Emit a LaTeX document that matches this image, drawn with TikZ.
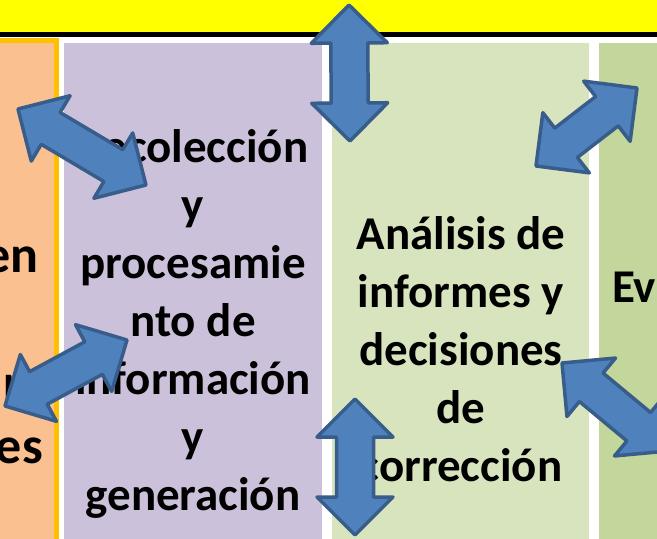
\documentclass[tikz,border=0pt]{standalone}
\usepackage{fontspec}
\setmainfont{Carlito}
\usetikzlibrary{calc}

\definecolor{bandyellow}{HTML}{FFFF00}
\definecolor{colorange}{HTML}{FAC090}
\definecolor{colgold}{HTML}{FFC000}
\definecolor{colpurple}{HTML}{CCC1DA}
\definecolor{collight}{HTML}{D7E4BD}
\definecolor{coldark}{HTML}{C3D69B}
\definecolor{arrowfill}{HTML}{4F81BD}
\definecolor{arrowline}{HTML}{385D8A}

\tikzset{
  stage/.style={font=\fontsize{47}{58}\selectfont\bfseries, align=center, inner sep=0pt},
  bigstage/.style={stage, font=\fontsize{52}{64}\selectfont\bfseries},
  blockarrow/.style={fill=arrowfill, draw=arrowline, line width=3.5pt, line join=round},
}

\newcommand{\headlen}{38pt}
\newcommand{\headwid}{38pt}
\newcommand{\shaftwid}{18.5pt}
% block arrow with a head at both tips
\newcommand{\dblarrow}[2]{%
  \draw[blockarrow] (#1)
    -- ($($(#1)!\headlen!(#2)$)!\headwid!90:(#2)$)
    -- ($($(#1)!\headlen!(#2)$)!\shaftwid!90:(#2)$)
    -- ($($(#2)!\headlen!(#1)$)!\shaftwid!-90:(#1)$)
    -- ($($(#2)!\headlen!(#1)$)!\headwid!-90:(#1)$)
    -- (#2)
    -- ($($(#2)!\headlen!(#1)$)!\headwid!90:(#1)$)
    -- ($($(#2)!\headlen!(#1)$)!\shaftwid!90:(#1)$)
    -- ($($(#1)!\headlen!(#2)$)!\shaftwid!-90:(#2)$)
    -- ($($(#1)!\headlen!(#2)$)!\headwid!-90:(#2)$)
    -- cycle;}

\begin{document}
\begin{tikzpicture}[x=1pt,y=-1pt]
\useasboundingbox (0,0) rectangle (657,539);
\clip (0,0) rectangle (657,539);
\fill[white] (0,0) rectangle (657,539);

% top band
\fill[bandyellow] (-10,-10) rectangle (667,32);
\draw[line width=5pt] (-10,34.5) -- (667,34.5);

% columns
\draw[fill=colorange, draw=colgold, line width=5pt] (-20,40.5) rectangle (56.5,560);
\fill[colpurple] (64,43) rectangle (322,560);
\fill[collight] (332,43) rectangle (589,560);
\fill[coldark] (599,43) rectangle (680,560);

% texts (base = last line)
\node[bigstage, anchor=base east] (plan1) at (39,272) {en};
\node[bigstage, anchor=base east] (plan2) at (22,400) {r};
\node[bigstage, anchor=base east] (plan3) at (43,463) {es};

\node[stage, anchor=base] (recol) at (193,510) {Recolección\\y\\procesamie\\nto de\\información\\y\\generación};

\node[stage, anchor=base] (analisis) at (461,481) {Análisis de\\informes y\\decisiones\\de\\corrección};

\node[stage, anchor=base west] (eval) at (612,302) {Ev};

% arrows
\coordinate (t1) at (349,5);
\coordinate (t2) at (350,141);
\coordinate (b1) at (355,399);
\coordinate (b2) at (355,535);
\coordinate (ul1) at (18,109);
\coordinate (ul2) at (146,185);
\coordinate (ll1) at (5,406);
\coordinate (ll2) at (127,340);
\coordinate (ur1) at (536,166);
\coordinate (ur2) at (637,88);
\coordinate (lr1) at (562,363);
\coordinate (lr2) at (668,451);

\dblarrow{t1}{t2}
\dblarrow{b1}{b2}
\dblarrow{ul1}{ul2}
\dblarrow{ll1}{ll2}
\dblarrow{ur1}{ur2}
\dblarrow{lr1}{lr2}

\end{tikzpicture}
\end{document}
